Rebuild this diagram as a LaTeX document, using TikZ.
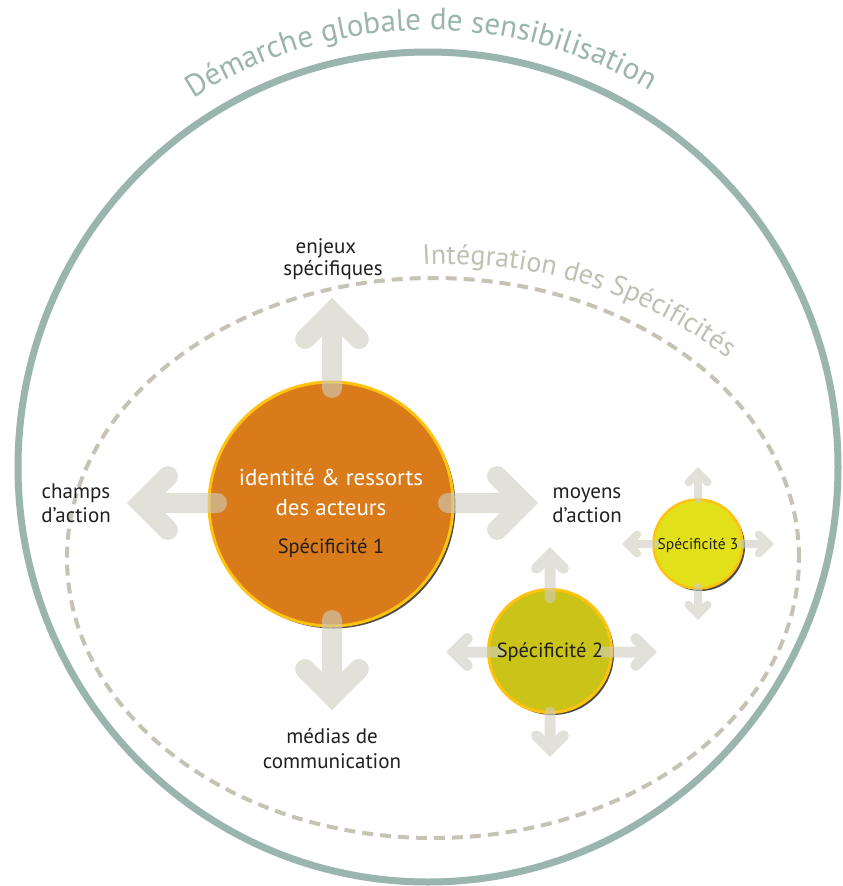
\documentclass[tikz,border=0pt]{standalone}
\usepackage{fontspec}
\setmainfont{PT Sans}
\usetikzlibrary{calc,decorations.text,shadows}
\definecolor{ringc}{HTML}{9AB5AE}
\definecolor{dashc}{HTML}{C6C2B4}
\definecolor{intc}{HTML}{C2BFB2}
\definecolor{arrc}{HTML}{CDCDC0}
\definecolor{orangec}{HTML}{D97B1A}
\definecolor{spectwo}{HTML}{CBC418}
\definecolor{specthree}{HTML}{E2E01A}
\definecolor{rimc}{HTML}{FFC20E}
\definecolor{shadc}{HTML}{4D4D4D}
\definecolor{txtc}{HTML}{231F20}
\tikzset{
  bubble/.style={circle, draw=rimc, inner sep=0pt,
    general shadow={fill=shadc, shadow xshift=2.5pt, shadow yshift=-2.5pt}},
  lbl/.style={txtc, anchor=base, inner sep=0pt, font=\fontsize{21}{25}\selectfont},
  spec/.style={txtc, anchor=base, inner sep=0pt, font=\fontsize{20.5}{24}\selectfont},
}
% #1 start, #2 tip, #3 width, #4 vertex back, #5 arm length
\newcommand\fatarrow[5]{%
  \coordinate (av) at ($(#2)!#4!(#1)$);
  \coordinate (aa) at ($(av)!#5!45:(#1)$);
  \coordinate (ab) at ($(av)!#5!-45:(#1)$);
  \begin{scope}[transparency group, opacity=0.6]
    \draw[arrc, line width=#3, line cap=round] (#1) -- (av);
    \draw[arrc, line width=#3, line cap=round, line join=miter] (aa) -- (av) -- (ab);
  \end{scope}}
\begin{document}
\begin{tikzpicture}[x=1pt,y=1pt]
\useasboundingbox (0,0) rectangle (843,-886);
\fill[white] (0,0) rectangle (843,-886);
% outer ring and dashed ring
\draw[ringc, line width=7pt] (428,-467) ellipse[x radius=410pt, y radius=415pt];
\draw[dashc, line width=4pt, dash pattern=on 11pt off 7pt] (433,-558) ellipse[x radius=366pt, y radius=280pt];
\path[decorate, decoration={text along path, text color=ringc, text align=center,
  text={|\fontsize{31}{31}\selectfont|Démarche globale de sensibilisation}}]
  (428,-467) ++(145:437pt) arc[start angle=145, end angle=37, radius=437pt];
\path[decorate, decoration={text along path, text color=intc, text align=left,
  text={|\fontsize{28}{28}\selectfont|Intégration des Spécificités}}]
  (450,-720) ++(93.4:456pt) arc[start angle=93.4, end angle=30, radius=456pt];
% circles
\node[bubble, fill=orangec, line width=3pt, minimum size=244pt] (c1) at (331,-504) {};
\node[bubble, fill=spectwo, line width=3pt, minimum size=123pt] (c2) at (550,-651) {};
\node[bubble, fill=specthree, line width=2.5pt, minimum size=89pt] (c3) at (698,-544) {};
% arrow coordinates
\coordinate (u1s) at (332,-388); \coordinate (u1t) at (332,-298);
\coordinate (d1s) at (332,-620); \coordinate (d1t) at (332,-710);
\coordinate (l1s) at (217,-503); \coordinate (l1t) at (127,-503);
\coordinate (r1s) at (448,-503); \coordinate (r1t) at (538,-503);
\coordinate (u2s) at (550,-598); \coordinate (u2t) at (550,-547);
\coordinate (d2s) at (550,-712); \coordinate (d2t) at (550,-757);
\coordinate (l2s) at (500,-652); \coordinate (l2t) at (446,-652);
\coordinate (r2s) at (602,-652); \coordinate (r2t) at (657,-652);
\coordinate (u3s) at (698,-499); \coordinate (u3t) at (698,-467);
\coordinate (d3s) at (698,-587); \coordinate (d3t) at (698,-620);
\coordinate (l3s) at (656,-544); \coordinate (l3t) at (622,-544);
\coordinate (r3s) at (742,-544); \coordinate (r3t) at (774,-544);
\fatarrow{u1s}{u1t}{20pt}{14.1pt}{38pt}
\fatarrow{d1s}{d1t}{20pt}{14.1pt}{38pt}
\fatarrow{l1s}{l1t}{20pt}{14.1pt}{38pt}
\fatarrow{r1s}{r1t}{20pt}{14.1pt}{38pt}
\fatarrow{u2s}{u2t}{11pt}{7.8pt}{19pt}
\fatarrow{d2s}{d2t}{11pt}{7.8pt}{19pt}
\fatarrow{l2s}{l2t}{11pt}{7.8pt}{19pt}
\fatarrow{r2s}{r2t}{11pt}{7.8pt}{19pt}
\fatarrow{u3s}{u3t}{8pt}{5.7pt}{13.4pt}
\fatarrow{d3s}{d3t}{8pt}{5.7pt}{13.4pt}
\fatarrow{l3s}{l3t}{8pt}{5.7pt}{13.4pt}
\fatarrow{r3s}{r3t}{8pt}{5.7pt}{13.4pt}
% texts in circles
\node[white, anchor=base, inner sep=0pt, font=\fontsize{23}{28}\selectfont] (id1) at (331,-485) {identité \& ressorts};
\node[white, anchor=base, inner sep=0pt, font=\fontsize{23}{28}\selectfont] (id2) at (331,-515) {des acteurs};
\node[spec] (s1) at (331,-553) {Spécificité 1};
\node[spec] (s2) at (550,-657) {Spécificité 2};
\node[spec, font=\fontsize{15.5}{18}\selectfont] (s3) at (698,-549) {Spécificité 3};
% labels
\node[lbl] (en1) at (326,-253) {enjeux};
\node[lbl] (en2) at (333,-275) {spécifiques};
\node[lbl] (ch1) at (76,-498) {champs};
\node[lbl] (ch2) at (76,-522) {d’action};
\node[lbl] (mo1) at (587,-498) {moyens};
\node[lbl] (mo2) at (587,-522) {d’action};
\node[lbl] (me1) at (332,-743) {médias de};
\node[lbl] (me2) at (332,-768) {communication};
\end{tikzpicture}
\end{document}
